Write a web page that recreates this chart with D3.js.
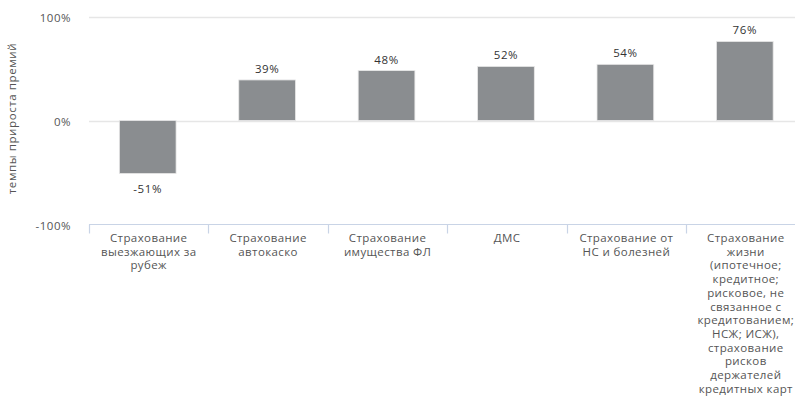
<!DOCTYPE html>
<html>
<head>
<meta charset="utf-8">
<script src="https://cdn.jsdelivr.net/npm/d3@7"></script>
<style>
  body { margin: 0; background: #fff; }
  svg { display: block; font-family: "Open Sans", sans-serif; }
</style>
</head>
<body>
<svg id="chart" width="795" height="412"></svg>
<script>
// categories (line breaks as in the original)
const categories = [
  "Страхование\nвыезжающих за\nрубеж",
  "Страхование\nавтокаско",
  "Страхование\nимущества ФЛ",
  "ДМС",
  "Страхование от\nНС и болезней",
  "Страхование\nжизни\n(ипотечное;\nкредитное;\nрисковое, не\nсвязанное с\nкредитованием;\nНСЖ; ИСЖ),\nстрахование\nрисков\nдержателей\nкредитных карт"
];
const growth = [-51, 39, 48, 52, 54, 76];
const yTicks = [-100, 0, 100];
const yTitle = "темпы прироста премий";

const width = 795, height = 412;
const margin = {top: 16.5, left: 89, bottom: 224.5};

const svg = d3.select("#chart");

const x = d3.scaleBand(categories, [margin.left, 805.5]).padding(0);
const y = d3.scaleLinear([-100, 100], [margin.bottom, margin.top]);
const barW = x.bandwidth() * 0.475;

// horizontal grid
svg.append("g")
  .selectAll("line")
  .data(yTicks.filter(d => d !== -100))
  .join("line")
    .attr("x1", margin.left)
    .attr("x2", width)
    .attr("y1", d => Math.round(y(d)) + 0.5)
    .attr("y2", d => Math.round(y(d)) + 0.5)
    .attr("stroke", "#e6e6e6")
    .attr("stroke-width", 1.5);

// y axis labels
const yAxis = d3.axisLeft(y)
  .tickValues(yTicks)
  .tickFormat(d => d + "%")
  .tickSize(0)
  .tickPadding(18);

svg.append("g")
  .attr("transform", `translate(${margin.left},0)`)
  .call(yAxis)
  .call(g => g.select(".domain").remove())
  .call(g => g.selectAll("text")
    .attr("fill", "#555")
    .attr("font-size", 11.5)
    .attr("letter-spacing", 0.5)
    .attr("font-family", "Open Sans, sans-serif")
    .attr("dy", "0.4em"));

svg.append("text")
  .attr("transform", `translate(16,${(margin.top + margin.bottom) / 2 - 2}) rotate(-90)`)
  .attr("text-anchor", "middle")
  .attr("fill", "#555")
  .attr("font-size", 11.5)
  .attr("letter-spacing", 0.6)
  .text(yTitle);

// bars
svg.append("g")
  .selectAll("rect")
  .data(growth)
  .join("rect")
    .attr("x", (d, i) => x(categories[i]) + (x.bandwidth() - barW) / 2 - 1)
    .attr("y", d => y(Math.max(0, d)))
    .attr("width", barW)
    .attr("height", d => Math.abs(y(d) - y(0)))
    .attr("fill", "#8a8d90")
    .attr("stroke", "#e8e8e8")
    .attr("stroke-width", 0.8);

// value labels
svg.append("g")
  .selectAll("text")
  .data(growth)
  .join("text")
    .attr("x", (d, i) => x(categories[i]) + x.bandwidth() / 2 - 1)
    .attr("y", d => d >= 0 ? y(d) - 7 : y(d) + 19)
    .attr("text-anchor", "middle")
    .attr("fill", "#333")
    .attr("font-size", 11.5)
    .attr("letter-spacing", 0.6)
    .text(d => d + "%");

// x axis: line, edge ticks, wrapped labels
const xAxisG = svg.append("g").attr("transform", `translate(0,${Math.round(margin.bottom) - 0.5})`);
xAxisG.append("line")
  .attr("x1", margin.left).attr("x2", width)
  .attr("stroke", "#c9d4e6").attr("stroke-width", 1.2);
xAxisG.selectAll(".edge")
  .data(categories)
  .join("line")
    .attr("class", "edge")
    .attr("x1", d => Math.round(x(d)) + 0.5)
    .attr("x2", d => Math.round(x(d)) + 0.5)
    .attr("y1", 0).attr("y2", 9)
    .attr("stroke", "#c9d4e6").attr("stroke-width", 1.2);

xAxisG.selectAll(".lbl")
  .data(categories)
  .join("text")
    .attr("class", "lbl")
    .attr("text-anchor", "middle")
    .attr("fill", "#555")
    .attr("font-size", 11.5)
    .attr("letter-spacing", 0.4)
    .each(function(d) {
      const t = d3.select(this);
      d.split("\n").forEach((line, k) => {
        t.append("tspan")
          .attr("x", x(d) + x.bandwidth() / 2)
          .attr("y", 17.5 + k * 13.7)
          .text(line);
      });
    });
</script>
</body>
</html>
